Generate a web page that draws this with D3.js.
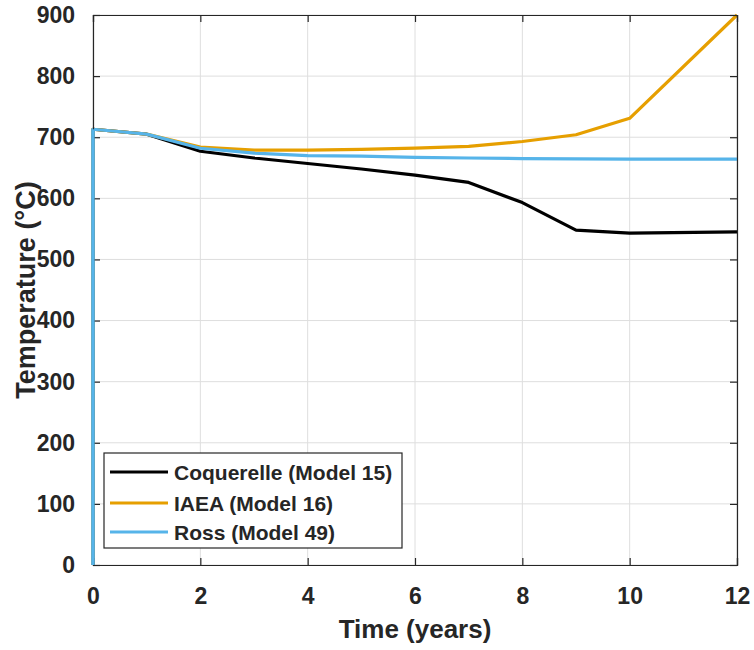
<!DOCTYPE html>
<html>
<head>
<meta charset="utf-8">
<script src="https://cdn.jsdelivr.net/npm/d3@7"></script>
<style>
  html, body { margin: 0; padding: 0; background: #fff; }
  svg { display: block; }
  text { font-family: "Liberation Sans", Arial, Helvetica, sans-serif; font-weight: bold; fill: #262626; }
</style>
</head>
<body>
<svg id="chart" width="754" height="650"></svg>
<script>
// Time points (years) and temperatures (°C) for each fuel model
const years = [0, 0, 1, 2, 3, 4, 5, 6, 7, 8, 9, 10, 12];
const coquerelle = [0, 713, 705, 677, 666, 657, 648, 638, 626, 593, 548, 543, 545];
const iaea       = [0, 713, 705, 684, 679, 679, 680, 682, 685, 693, 704, 731, 900];
const ross       = [0, 713, 705, 682, 674, 670, 669, 667, 666, 665, 664.5, 664, 664];

const seriesNames = ["Coquerelle (Model 15)", "IAEA (Model 16)", "Ross (Model 49)"];
const seriesColors = ["#000000", "#E69F00", "#56B4E9"];
const xTicks = [0, 2, 4, 6, 8, 10, 12];
const yTicks = [0, 100, 200, 300, 400, 500, 600, 700, 800, 900];

const svg = d3.select("#chart");
const margin = { left: 93, top: 15, right: 17, bottom: 85 };
const W = 754, H = 650;
const x0 = margin.left, x1 = W - margin.right, y0 = H - margin.bottom, y1 = margin.top;

const x = d3.scaleLinear().domain([0, 12]).range([x0, x1]);
const y = d3.scaleLinear().domain([0, 900]).range([y0, y1]);

// grid lines
const grid = svg.append("g");
grid.selectAll("line.gx").data(xTicks).join("line")
  .attr("x1", d => x(d)).attr("x2", d => x(d)).attr("y1", y0).attr("y2", y1)
  .attr("stroke", "#dedede").attr("stroke-width", 1);
grid.selectAll("line.gy").data(yTicks).join("line")
  .attr("x1", x0).attr("x2", x1).attr("y1", d => y(d)).attr("y2", d => y(d))
  .attr("stroke", "#dedede").attr("stroke-width", 1);

// data lines
const data = [coquerelle, iaea, ross];
const line = d3.line().x(d => x(d[0])).y(d => y(d[1]));
data.forEach((vals, i) => {
  svg.append("path")
    .datum(years.map((t, k) => [t, vals[k]]))
    .attr("d", line)
    .attr("fill", "none")
    .attr("stroke", seriesColors[i])
    .attr("stroke-width", 3.2)
    .attr("stroke-linejoin", "round");
});

// axes (ticks pointing inward, box around the plot)
const tickLen = 7;
const axisColor = "#262626";
const axBottom = svg.append("g").attr("transform", `translate(0,${y0})`)
  .call(d3.axisBottom(x).tickValues(xTicks).tickSize(-tickLen).tickPadding(16 + tickLen));
const axTop = svg.append("g").attr("transform", `translate(0,${y1})`)
  .call(d3.axisTop(x).tickValues(xTicks).tickSize(-tickLen).tickFormat(""));
const axLeft = svg.append("g").attr("transform", `translate(${x0},0)`)
  .call(d3.axisLeft(y).tickValues(yTicks).tickSize(-tickLen).tickPadding(11 + tickLen));
const axRight = svg.append("g").attr("transform", `translate(${x1},0)`)
  .call(d3.axisRight(y).tickValues(yTicks).tickSize(-tickLen).tickFormat(""));

[axBottom, axTop, axLeft, axRight].forEach(g => {
  g.select(".domain").attr("stroke", axisColor).attr("stroke-width", 1.2);
  g.selectAll(".tick line").attr("stroke", axisColor).attr("stroke-width", 1.2);
  g.selectAll(".tick text").attr("fill", "#262626")
    .style("font-family", "'Liberation Sans', Arial, Helvetica, sans-serif")
    .style("font-weight", "bold").style("font-size", "23px");
});

// the vertical segment at t=0 goes over the left axis line
svg.append("line")
  .attr("x1", x(0)).attr("x2", x(0)).attr("y1", y(0)).attr("y2", y(ross[1]))
  .attr("stroke", seriesColors[2]).attr("stroke-width", 3.2);

// axis titles
svg.append("text")
  .attr("x", (x0 + x1) / 2).attr("y", 638)
  .attr("text-anchor", "middle").style("font-size", "26px")
  .text("Time (years)");
svg.append("text")
  .attr("transform", `translate(35,${(y0 + y1) / 2}) rotate(-90)`)
  .attr("text-anchor", "middle").style("font-size", "27px")
  .text("Temperature (°C)");

// legend
const lg = svg.append("g");
lg.append("rect")
  .attr("x", 104).attr("y", 453).attr("width", 298).attr("height", 95)
  .attr("fill", "#fff").attr("stroke", axisColor).attr("stroke-width", 1.2);
const rowY = [472, 503, 532];
seriesNames.forEach((name, i) => {
  lg.append("line")
    .attr("x1", 110).attr("x2", 168).attr("y1", rowY[i]).attr("y2", rowY[i])
    .attr("stroke", seriesColors[i]).attr("stroke-width", 3.2);
  lg.append("text")
    .attr("x", 174).attr("y", rowY[i]).attr("dy", "0.36em")
    .style("font-size", "21px").attr("fill", "#000")
    .text(name);
});
</script>
</body>
</html>
